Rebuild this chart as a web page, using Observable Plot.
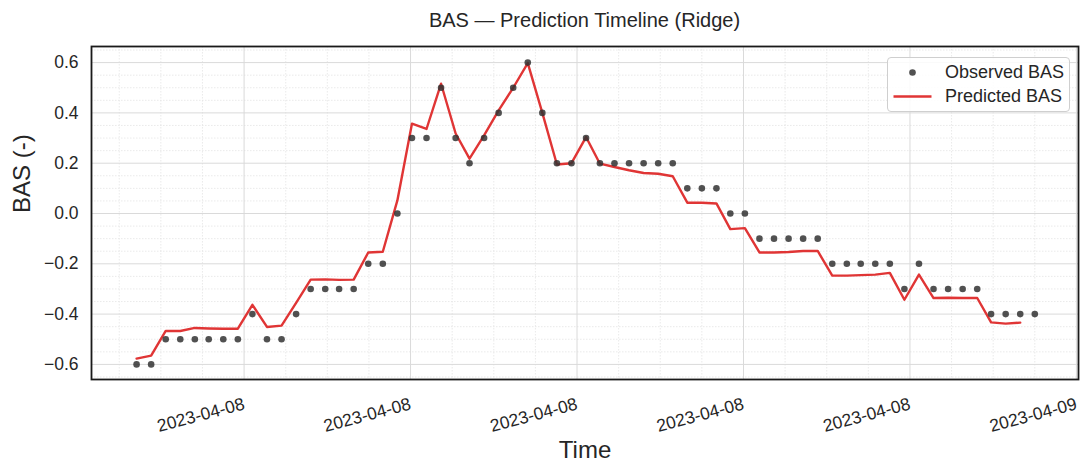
<!DOCTYPE html>
<html><head><meta charset="utf-8">
<script src="https://cdn.jsdelivr.net/npm/d3@7"></script>
<script src="https://cdn.jsdelivr.net/npm/@observablehq/plot@0.6"></script>
<style>
body{margin:0;background:#fff;font-family:"Liberation Sans",Arial,sans-serif;}
#wrap{position:relative;width:1083px;height:464px;overflow:hidden;}
#title{height:40px;line-height:40px;padding-left:86px;text-align:center;font-size:20px;color:#262626;}
#legend{position:absolute;left:887px;top:57px;width:183px;height:55px;border:1px solid #cfcfcf;border-radius:4px;background:rgba(255,255,255,0.85);color:#262626;font-size:18px;box-sizing:border-box;}
#legend .lab{position:absolute;left:57px;line-height:20px;white-space:nowrap;}
#legend svg{position:absolute;left:0;top:0;}
</style>
</head><body>
<div id="wrap">
  <div id="title">BAS — Prediction Timeline (Ridge)</div>
  <div id="chart"></div>
  <div id="legend">
    <svg width="60" height="55"><circle cx="24.5" cy="14.5" r="3.3" fill="#333" fill-opacity="0.85"/><line x1="5.5" x2="43.5" y1="38.5" y2="38.5" stroke="#e03535" stroke-width="2.4"/></svg>
    <div class="lab" style="top:4px">Observed BAS</div>
    <div class="lab" style="top:28px">Predicted BAS</div>
  </div>
</div>
<script>
// Sample times (2023-04-08, HH:MM)
const times = ["01:25","01:46","02:07","02:28","02:49","03:09","03:30","03:51","04:12","04:33",
  "04:54","05:15","05:36","05:57","06:17","06:38","06:59","07:20","07:41","08:02",
  "08:23","08:44","09:05","09:25","09:46","10:07","10:28","10:49","11:10","11:31",
  "11:52","12:13","12:33","12:54","13:15","13:36","13:57","14:18","14:39","15:00",
  "15:21","15:41","16:02","16:23","16:44","17:05","17:26","17:47","18:08","18:29",
  "18:49","19:10","19:31","19:52","20:13","20:34","20:55","21:16","21:37","21:57",
  "22:18","22:39","23:00"];
const observed = [-0.6,-0.6,-0.5,-0.5,-0.5,-0.5,-0.5,-0.5,-0.4,-0.5,
  -0.5,-0.4,-0.3,-0.3,-0.3,-0.3,-0.2,-0.2,0.0,0.3,
  0.3,0.5,0.3,0.2,0.3,0.4,0.5,0.6,0.4,0.2,
  0.2,0.3,0.2,0.2,0.2,0.2,0.2,0.2,0.1,0.1,
  0.1,0.0,0.0,-0.1,-0.1,-0.1,-0.1,-0.1,-0.2,-0.2,
  -0.2,-0.2,-0.2,-0.3,-0.2,-0.3,-0.3,-0.3,-0.3,-0.4,
  -0.4,-0.4,-0.4];
const predicted = [-0.577,-0.565,-0.467,-0.467,-0.455,-0.457,-0.458,-0.458,-0.363,-0.451,
  -0.446,-0.355,-0.263,-0.262,-0.264,-0.263,-0.155,-0.152,0.052,0.357,
  0.336,0.516,0.318,0.218,0.311,0.41,0.50,0.598,0.40,0.195,
  0.2,0.304,0.198,0.185,0.172,0.161,0.158,0.148,0.043,0.043,
  0.040,-0.062,-0.058,-0.155,-0.155,-0.153,-0.149,-0.149,-0.247,-0.247,
  -0.245,-0.243,-0.236,-0.343,-0.243,-0.336,-0.335,-0.336,-0.336,-0.433,
  -0.438,-0.434];
const yTicks = [-0.6,-0.4,-0.2,0.0,0.2,0.4,0.6];
const yMinor = [-0.65,-0.55,-0.5,-0.45,-0.35,-0.3,-0.25,-0.15,-0.1,-0.05,0.05,0.1,0.15,0.25,0.3,0.35,0.45,0.5,0.55,0.65];
const xTicks = ["2023-04-08T04:00Z","2023-04-08T08:00Z","2023-04-08T12:00Z","2023-04-08T16:00Z","2023-04-08T20:00Z","2023-04-09T00:00Z"];
const xMinorHours = [1,2,3,5,6,7,9,10,11,13,14,15,17,18,19,21,22,23];
const xDomain = ["2023-04-08T00:20Z","2023-04-09T00:03Z"];

const data = times.map((t,i)=>({t:new Date(`2023-04-08T${t}:00Z`), obs:observed[i], pred:i<predicted.length?predicted[i]:NaN}));
const xT = xTicks.map(s=>new Date(s));
const xM = xMinorHours.map(h=>new Date(Date.UTC(2023,3,8,h)));

const chart = Plot.plot({
  width:1083, height:424,
  marginTop:6, marginBottom:85, marginLeft:91, marginRight:5,
  style:{fontFamily:"'Liberation Sans', Arial, sans-serif", background:"#fff", color:"#262626", overflow:"visible"},
  x:{type:"utc", domain:xDomain.map(s=>new Date(s))},
  y:{domain:[-0.66,0.664]},
  marks:[
    Plot.ruleY(yMinor,{stroke:"#e4e4e4", strokeWidth:0.8, strokeDasharray:"1.5,1.5"}),
    Plot.ruleX(xM,{stroke:"#e4e4e4", strokeWidth:0.8, strokeDasharray:"1.5,1.5"}),
    Plot.ruleY(yTicks,{stroke:"#dadada", strokeWidth:1}),
    Plot.ruleX(xT,{stroke:"#dadada", strokeWidth:1}),
    Plot.axisY({ticks:yTicks, tickSize:0, tickPadding:13, fontSize:17.5, label:null, tickFormat:d3.format(".1f")}),
    Plot.axisX({ticks:xT, tickSize:0, tickPadding:24, tickRotate:-15, fontSize:17.5, label:null, tickFormat:d3.utcFormat("%Y-%m-%d")}),
    Plot.line(data,{x:"t", y:"pred", stroke:"#e03535", strokeWidth:2.4}),
    Plot.dot(data,{x:"t", y:"obs", r:3.3, fill:"#333", fillOpacity:0.85}),
    Plot.frame({stroke:"#1a1a1a", strokeWidth:1.8}),
    Plot.text(["Time"],{frameAnchor:"bottom", dy:78, fontSize:24, fill:"#262626"}),
    Plot.text(["BAS (-)"],{frameAnchor:"left", dx:-69, rotate:-90, fontSize:24, fill:"#262626"})
  ]
});
document.getElementById("chart").appendChild(chart);
</script>
</body></html>
